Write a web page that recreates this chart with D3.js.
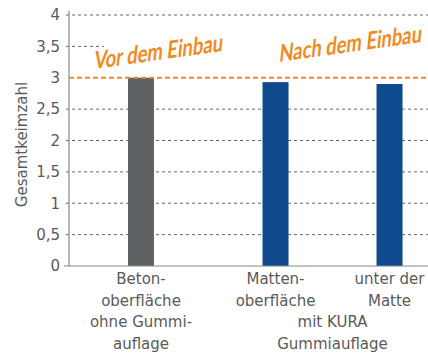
<!DOCTYPE html>
<html>
<head>
<meta charset="utf-8">
<script src="https://cdn.jsdelivr.net/npm/d3@7"></script>
<style>
  html, body { margin: 0; padding: 0; background: #fff; }
  svg { display: block; }
</style>
</head>
<body>
<svg id="chart" width="428" height="354"></svg>
<script>
// Germ counts per surface
const categories = ["Betonoberfläche ohne Gummiauflage", "Mattenoberfläche", "unter der Matte"];
const groups = ["vor", "nach", "nach"];
const values = [3.0, 2.93, 2.90];
const yTicks = [0, 0.5, 1, 1.5, 2, 2.5, 3, 3.5, 4];
const referenceValue = 3;
const annotations = ["Vor dem Einbau", "Nach dem Einbau"];

(function () {
const svg = d3.select("#chart");
const plotLeft = 69, plotTop = 15, plotBottom = 266, plotRight = 428;
const textColor = "#5a5a5a";
const font = "'DejaVu Sans', Verdana, sans-serif";

const y = d3.scaleLinear().domain([0, 4]).range([plotBottom, plotTop]);

// slot position: one unit per bar plus a small gap between the before/after groups
const groupGap = 0.18;
const slot = categories.map((c, i) => i + (groups[i] === "nach" ? groupGap : 0));
const x = d3.scaleLinear().domain([0, 1]).range([141, 255]);
const barW = 26;

// dashed gridlines
svg.append("g")
  .selectAll("line")
  .data(yTicks.filter(t => t > 0 && t !== referenceValue))
  .join("line")
  .attr("x1", plotLeft - 3).attr("x2", plotRight)
  .attr("y1", d => y(d)).attr("y2", d => y(d))
  .attr("stroke", "#666").attr("stroke-width", 1)
  .attr("stroke-dasharray", "3,3");

// y axis
const yAxis = d3.axisLeft(y)
  .tickValues(yTicks)
  .tickSize(0)
  .tickPadding(9)
  .tickFormat(d => d3.format("")(d).replace(".", ","));
const gy = svg.append("g").attr("transform", `translate(${plotLeft},0)`).call(yAxis);
gy.select(".domain").remove();
gy.selectAll("text")
  .attr("fill", textColor)
  .style("font-family", font)
  .style("font-size", "15px");

svg.append("line")
  .attr("x1", plotLeft).attr("x2", plotLeft)
  .attr("y1", 11).attr("y2", plotBottom)
  .attr("stroke", "#888").attr("stroke-width", 1.2);

// bars
svg.append("g")
  .selectAll("rect")
  .data(values)
  .join("rect")
  .attr("x", (d, i) => x(slot[i]) - barW / 2)
  .attr("width", barW)
  .attr("y", d => y(d))
  .attr("height", d => y(0) - y(d))
  .attr("fill", (d, i) => groups[i] === "vor" ? "#5f6265" : "#0f4a8f");

// baseline
svg.append("line")
  .attr("x1", plotLeft - 5).attr("x2", plotRight)
  .attr("y1", plotBottom).attr("y2", plotBottom)
  .attr("stroke", "#888").attr("stroke-width", 1.2);

// white panel behind the annotations (hides the grid under them)
svg.append("rect")
  .attr("x", 104).attr("y", y(3.5) - 8)
  .attr("width", plotRight - 104).attr("height", 16)
  .attr("fill", "#fff");

// reference line at the starting value
svg.append("line")
  .attr("x1", plotLeft).attr("x2", plotRight)
  .attr("y1", y(referenceValue)).attr("y2", y(referenceValue))
  .attr("stroke", "#f28a22").attr("stroke-width", 2)
  .attr("stroke-dasharray", "5,3");

// handwritten-style annotations, slanted
const annPos = [
  { cx: 158, cy: 60, len: 130 },
  { cx: 350, cy: 52, len: 144 }
];
annotations.forEach((t, i) => {
  svg.append("text")
    .attr("transform", `translate(${annPos[i].cx},${annPos[i].cy}) rotate(-8) skewX(-14)`)
    .attr("text-anchor", "middle")
    .attr("textLength", annPos[i].len)
    .attr("lengthAdjust", "spacingAndGlyphs")
    .attr("fill", "#f28a22")
    .style("font-family", "Lato, 'Open Sans', sans-serif")
    .style("font-weight", "bold")
    .style("font-size", "24px")
    .text(t);
});

// category labels
const labelLines = [
  { cx: x(slot[0]), lines: ["Beton-", "oberfläche", "ohne Gummi-", "auflage"] },
  { cx: x(slot[1]), lines: ["Matten-", "oberfläche"] },
  { cx: x(slot[2]), lines: ["unter der", "Matte"] },
  { cx: (x(slot[1]) + x(slot[2])) / 2, lines: ["", "", "mit KURA", "Gummiauflage"] }
];
labelLines.forEach(l => {
  l.lines.forEach((s, j) => {
    if (!s) return;
    svg.append("text")
      .attr("x", l.cx)
      .attr("y", 284 + j * 21.5)
      .attr("text-anchor", "middle")
      .attr("fill", textColor)
      .style("font-family", font)
      .style("font-size", "15px")
      .text(s);
  });
});

// y axis title
svg.append("text")
  .attr("transform", `translate(27,${(plotTop + plotBottom) / 2 + 4}) rotate(-90)`)
  .attr("text-anchor", "middle")
  .attr("fill", textColor)
  .style("font-family", font)
  .style("font-size", "15px")
  .text("Gesamtkeimzahl");
})();
</script>
</body>
</html>
